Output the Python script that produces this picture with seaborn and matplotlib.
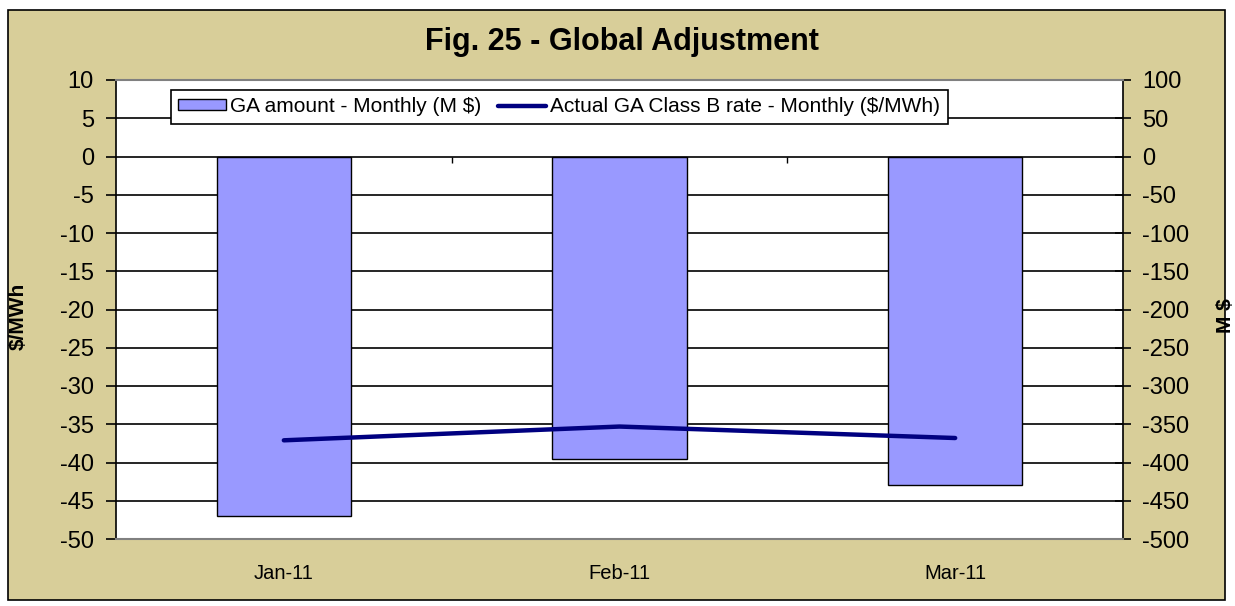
import numpy as np
import matplotlib
matplotlib.use("Agg")
import matplotlib.pyplot as plt
from matplotlib.patches import Patch, Rectangle
from matplotlib.lines import Line2D
import seaborn as sns

# -----------------------------------
# Data
# -----------------------------------
months = ["Jan-11", "Feb-11", "Mar-11"]
ga_amount = [-470, -395, -430]          # GA amount - Monthly (M $), right axis
ga_rate = [-37.1, -35.3, -36.8]         # Actual GA Class B rate ($/MWh), left axis

left_ticks = list(range(-50, 11, 5))
right_ticks = list(range(-500, 101, 50))

bar_label = "GA amount - Monthly (M $)"
line_label = "Actual GA Class B rate - Monthly ($/MWh)"

tan = "#D8CE99"
bar_color = "#9999FF"
line_color = "#000080"

sns.set_style("white")
plt.rcParams["font.family"] = ["Liberation Sans", "DejaVu Sans"]
plt.rcParams["axes.unicode_minus"] = False
for key in ["text.color", "axes.labelcolor", "xtick.color", "ytick.color"]:
    plt.rcParams[key] = "black"

W, H = 1235, 606
fig = plt.figure(figsize=(W / 100, H / 100), dpi=100)
fig.patch.set_facecolor("white")

# outer chart frame
fig.patches.append(Rectangle((8 / W, 1 - 600 / H), (1225 - 8) / W, (600 - 10) / H,
                             transform=fig.transFigure, facecolor=tan,
                             edgecolor="black", linewidth=1.2, zorder=-10))

# -----------------------------------
# Axes
# -----------------------------------
ax = fig.add_axes([116 / W, 1 - 539 / H, (1123 - 116) / W, (539 - 80) / H])
ax2 = ax.twinx()
ax.set_zorder(ax2.get_zorder() + 1)
ax.patch.set_visible(False)
ax2.patch.set_visible(True)
ax2.patch.set_facecolor("white")

# bars on the M $ axis
sns.barplot(x=months, y=ga_amount, ax=ax2, color=bar_color, saturation=1,
            edgecolor="black", linewidth=1.0, width=0.4, zorder=2)
ax2.set_ylim(-500, 100)
ax2.set_yticks(right_ticks)
ax2.set_axisbelow(True)
ax2.yaxis.grid(True, color="black", linewidth=1.2)
ax2.set_ylabel("")
ax2.set_xlabel("")

# small ticks on the zero line between categories
cat_bounds = np.arange(len(months) - 1) + 0.5
ax2.vlines(cat_bounds, 0, -9, color="black", linewidth=1.0, zorder=3)

# line on the $/MWh axis
sns.lineplot(x=np.arange(len(months)), y=ga_rate, ax=ax, color=line_color,
             linewidth=3.2)
ax.set_ylim(-50, 10)
ax.set_yticks(left_ticks)
ax.set_xlim(-0.5, len(months) - 0.5)
ax.set_xticks(np.arange(len(months)))
ax.set_xticklabels(months)
ax.set_xlabel("")

# tick styling
ax.tick_params(axis="y", direction="out", length=7, width=1.2, labelsize=17,
               pad=9, left=True)
ax.tick_params(axis="x", length=0, labelsize=14.5, pad=18)
ax2.tick_params(axis="y", direction="inout", length=12, width=1.2,
                labelsize=17, pad=8, right=True)

# spines
for s in ["top", "bottom"]:
    ax.spines[s].set_color("#808080")
    ax.spines[s].set_linewidth(1.5)
ax.spines["left"].set_color("black")
ax.spines["left"].set_linewidth(1.2)
ax.spines["right"].set_visible(False)
for s in ["top", "bottom", "left"]:
    ax2.spines[s].set_visible(False)
ax2.spines["right"].set_color("black")
ax2.spines["right"].set_linewidth(1.2)

# axis titles
ax.set_ylabel("$/MWh", fontsize=15, fontweight="bold")
ax.yaxis.set_label_coords(28 / W, 1 - 316 / H, transform=fig.transFigure)
ax2.set_ylabel("M $", fontsize=15, fontweight="bold", rotation=90)
ax2.yaxis.set_label_coords(1216 / W, 1 - 316 / H, transform=fig.transFigure)

# -----------------------------------
# Legend
# -----------------------------------
handles = [Patch(facecolor=bar_color, edgecolor="black", linewidth=1.0),
           Line2D([], [], color=line_color, linewidth=3.2)]
leg = ax.legend(handles, [bar_label, line_label], loc="upper left",
                bbox_to_anchor=(171 / W, 1 - 90 / H),
                bbox_transform=fig.transFigure, ncol=2, fontsize=15,
                frameon=True, fancybox=False, edgecolor="black", framealpha=1,
                handlelength=2.3, handleheight=0.45, handletextpad=0.2,
                columnspacing=0.8, borderpad=0.35, borderaxespad=0)
leg.get_frame().set_linewidth(1.2)

# title
fig.text(622 / W, 1 - 42 / H, "Fig. 25 - Global Adjustment", ha="center",
         va="center", fontsize=22, fontweight="bold")

plt.savefig("out.png", dpi=100)
